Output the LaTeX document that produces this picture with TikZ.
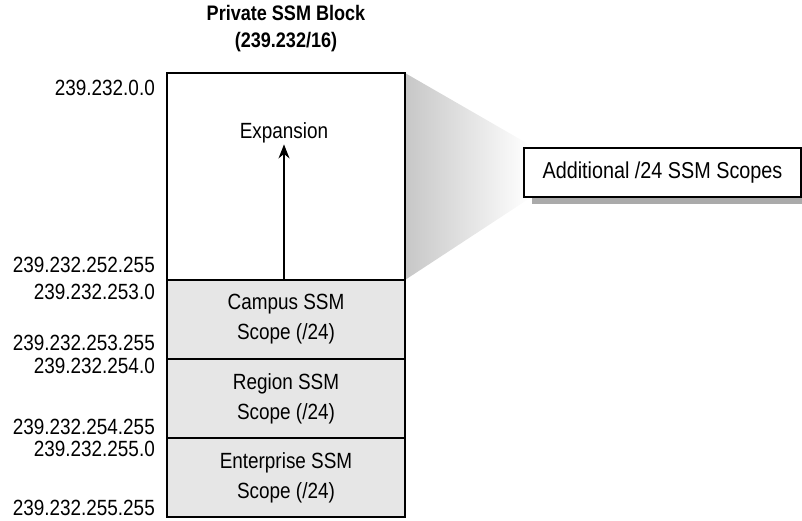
\documentclass[tikz,border=0pt]{standalone}
\usepackage{fontspec}
\setmainfont{Liberation Sans}[FakeStretch=0.86]
\usetikzlibrary{arrows.meta,calc}
\definecolor{cellgray}{RGB}{230,230,230}
\definecolor{shadowgray}{RGB}{170,170,170}
\tikzset{
  txt/.style={font=\fontsize{22}{24}\selectfont, inner sep=0pt},
  addr/.style={txt, anchor=east},
  cell/.style={draw=black, line width=1.1pt, fill=cellgray, minimum width=238pt,
    minimum height=79pt, inner sep=0pt, align=center,
    font=\fontsize{22}{30}\selectfont},
}
\begin{document}
\begin{tikzpicture}[x=1pt,y=-1pt]
\useasboundingbox (0,0) rectangle (802,521);

% title
\node[txt, font=\bfseries\fontsize{21}{27}\selectfont, align=center] (title) at (286,29)
  {Private SSM Block\\(239.232/16)};

% projection fan towards the detail box
\shade[left color=black!22, right color=white]
  (405,73) -- (530,145) -- (530,198) -- (405,280) -- cycle;

% address block
\node[cell, fill=white, minimum height=207pt] (exp) at (286,176.5) {};
\node[cell] (campus) at (286,319.5) {Campus SSM\\Scope (/24)};
\node[cell] (region) at (286,398.5) {Region SSM\\Scope (/24)};
\node[cell] (enter) at (286,477.5) {Enterprise SSM\\Scope (/24)};

\node[txt] (explabel) at (284,133) {Expansion};
\draw[line width=1.1pt, -{Stealth[length=14pt,width=11pt]}]
  (campus.north -| explabel) -- ([yshift=-1pt]explabel.south);

% detail box with drop shadow
\fill[shadowgray] (532,190) rectangle (806,204);
\node[draw=black, line width=1.1pt, fill=white, minimum width=277pt, minimum height=49pt,
  inner sep=0pt, font=\fontsize{23}{24}\selectfont] (add) at (662.5,172.5)
  {Additional /24 SSM Scopes};

% address labels
\node[addr] (a1) at (155,88) {239.232.0.0};
\node[addr] (a2) at (155,265) {239.232.252.255};
\node[addr] (a3) at (155,292) {239.232.253.0};
\node[addr] (a4) at (155,343) {239.232.253.255};
\node[addr] (a5) at (155,366) {239.232.254.0};
\node[addr] (a6) at (155,427) {239.232.254.255};
\node[addr] (a7) at (155,449) {239.232.255.0};
\node[addr] (a8) at (155,508) {239.232.255.255};
\end{tikzpicture}
\end{document}
